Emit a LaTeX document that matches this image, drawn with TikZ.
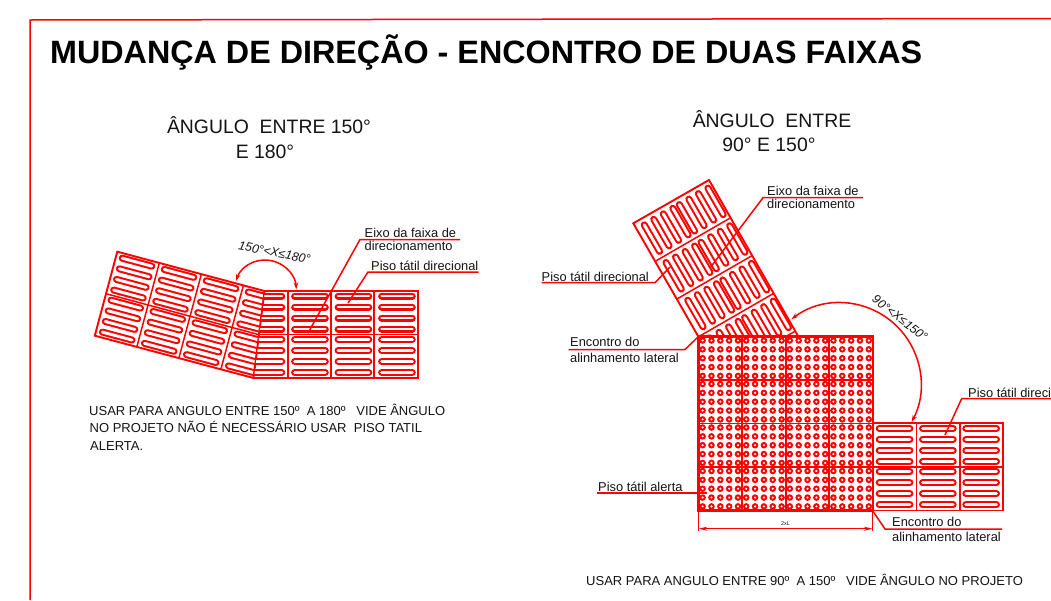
\documentclass[tikz,border=0pt]{standalone}
\usepackage{fontspec}
\setmainfont{Liberation Sans}
\usetikzlibrary{arrows.meta}
\definecolor{cad}{RGB}{255,0,0}
\definecolor{ink}{RGB}{20,20,20}
\newcommand{\fsz}[1]{\fontsize{#1pt}{#1pt}\selectfont}
% slots of one paving cell, local origin at cell corner
\newcommand{\tileslots}[2]{%
  \foreach \o in {5,16,27,38}{%
    \draw[slotout] (#1+6.4,#2+\o) -- (#1+37.1,#2+\o);
    \draw[slotin] (#1+6.4,#2+\o) -- (#1+37.1,#2+\o);
  }}
\newcommand{\alertdots}[2]{%
  \foreach \i in {0,...,4}{\foreach \j in {0,...,4}{%
    \fill[cad] (#1+4.2+8.85*\i,#2+4+8.85*\j) circle[radius=3.3pt];
    \fill[white] (#1+4.2+8.85*\i,#2+4+8.85*\j) circle[radius=1.2pt];
  }}}
\tikzset{
  slotout/.style={cad,line width=7pt,line cap=round},
  slotin/.style={white,line width=2.9pt,line cap=round},
  grid/.style={cad,line width=1.5pt},
  heavy/.style={cad,line width=1.9pt},
  leader/.style={cad,line width=1.5pt},
  arcline/.style={cad,line width=1.5pt,{Stealth[length=7pt,width=4.5pt]}-{Stealth[length=7pt,width=4.5pt]}},
  lab/.style={anchor=base west,inner sep=0pt,text=ink,font=\fsz{12.85}},
  head/.style={anchor=base,inner sep=0pt,text=ink,font=\fsz{19.4}},
  note/.style={anchor=base west,inner sep=0pt,text=ink,font=\fsz{13}},
  ang/.style={inner sep=0pt,text=ink,font=\fsz{12.3}\itshape},
}
\begin{document}
\begin{tikzpicture}[x=1pt,y=-1pt]
\useasboundingbox (0,0) rectangle (1051,600);
\clip (0,0) rectangle (1051,600);
\fill[white] (0,0) rectangle (1051,600);

% frame
\coordinate (fa) at (30,600); \coordinate (fb) at (30,20); \coordinate (fc) at (1051,18.5);
\draw[cad,line width=1.5pt] (fa) -- (fb) -- (fc);

% title
\node[anchor=base west,inner sep=0pt,text=black,font=\fsz{32.3}\bfseries] (title) at (50,63.5) {MUDANÇA DE DIREÇÃO - ENCONTRO DE DUAS FAIXAS};
\node[head] (h1a) at (269,133.5) {ÂNGULO\ \ ENTRE 150°};
\node[head] (h1b) at (265,158) {E 180°};
\node[head] (h2a) at (772,127) {ÂNGULO\ \ ENTRE};
\node[head] (h2b) at (769,151) {90° E 150°};

% ---------- left strip, rotated
\begin{scope}
  \clip (117.3,251.7) -- (264.5,291) -- (253.5,378) -- (94.8,335.7) -- cycle;
  \begin{scope}[shift={(117.3,251.7)},rotate=-15]
    \foreach \c in {0,1,2,3}{\foreach \r in {0,1}{\tileslots{43.5*\c}{43.5*\r}}}
    \foreach \c in {1,2,3,4}{\draw[grid] (43.5*\c,0) -- (43.5*\c,87);}
    \draw[grid] (0,43.5) -- (180,43.5);
  \end{scope}
\end{scope}
\draw[heavy] (117.3,251.7) -- (264.5,291) -- (253.5,378) -- (94.8,335.7) -- cycle;

% ---------- left right-hand block
\begin{scope}
  \clip (265,291) -- (418,291) -- (418,378) -- (254,378) -- cycle;
  \foreach \c in {0,1,2,3}{\foreach \r in {0,1}{\tileslots{244.7+43.5*\c}{291+43.5*\r}}}
\end{scope}
\foreach \xx in {288,331,374}{\draw[grid] (\xx,291) -- (\xx,378);}
\draw[grid] (259.5,334.3) -- (418,334.3);
\draw[heavy] (265,291) -- (418,291) -- (418,378) -- (254,378);

% left dimension arc and leaders
\coordinate (arcL) at (236,281);
\draw[arcline] (arcL) arc[start angle=161,end angle=3,radius=31pt];
\node[ang,rotate=-11.5] (angL) at (274.5,252.5) {150°<X≤180°};
\coordinate (e1a) at (308,333); \coordinate (e1b) at (360,239.5); \coordinate (e1c) at (460,239.5);
\draw[leader] (e1a) -- (e1b) -- (e1c);
\node[lab] (e1t1) at (364.5,237.5) {Eixo da faixa de};
\node[lab] (e1t2) at (364.5,250) {direcionamento};
\coordinate (p1a) at (348,303); \coordinate (p1b) at (368,272); \coordinate (p1c) at (478.5,272);
\draw[leader] (p1a) -- (p1b) -- (p1c);
\node[lab] (p1t) at (371,270.5) {Piso tátil direcional};

\node[note] (n1) at (89,415) {USAR PARA ANGULO ENTRE 150º\ \ A 180º\ \ \ VIDE ÂNGULO};
\node[note] (n2) at (89.5,432.5) {NO PROJETO NÃO É NECESSÁRIO USAR\ \ PISO TATIL};
\node[note] (n3) at (90,450) {ALERTA.};

% ---------- right rotated strip
\begin{scope}
  \clip (709,180) -- (633.3,223.3) -- (698.3,336.5) -- (798.3,336.5) -- cycle;
  \begin{scope}[shift={(709,180)},rotate=-60]
    \foreach \c in {0,1,2,3,4}{
      \tileslots{43.5*\c}{0}
      \tileslots{43.5*\c}{40.5}
    }
    \foreach \c in {1,2,3,4}{\draw[grid] (43.5*\c,0) -- (43.5*\c,87);}
  \end{scope}
\end{scope}
\draw[heavy] (698.3,336.5) -- (633.3,223.3) -- (709,180) -- (798.3,336.5);

% ---------- alert block
\foreach \c in {0,1,2,3}{\foreach \r in {0,1,2,3}{\alertdots{698.4+43.6*\c}{336.5+43.5*\r}}}
\foreach \xx in {742,785.6,829.2}{\draw[cad,line width=1.8pt] (\xx,336.5) -- (\xx,510.5);}
\foreach \yy in {379.8,423.3,466.8}{\draw[grid] (698.4,\yy) -- (872.8,\yy);}
\draw[cad,line width=2.2pt] (698.4,336.5) rectangle (872.8,510.5);

% ---------- lower right block
\foreach \c in {0,1,2}{\foreach \r in {0,1}{\tileslots{872.8+43.3*\c}{423.3+43.5*\r}}}
\foreach \xx in {916.5,960}{\draw[grid] (\xx,423.3) -- (\xx,510.5);}
\draw[grid] (872.8,466.8) -- (1002.7,466.8);
\draw[heavy] (872.8,423.3) -- (1002.7,423.3) -- (1002.7,510.5) -- (872.8,510.5);

% right arc
\coordinate (arcR) at (791.3,319.3);
\draw[arcline] (arcR) arc[start angle=127,end angle=-28,radius=81pt];
\node[ang,rotate=-38] (angR) at (900,318) {90°<X≤150°};

% dimension
\coordinate (da) at (698.4,511); \coordinate (db) at (698.4,531);
\coordinate (dc) at (872.8,511); \coordinate (dd) at (872.8,531);
\coordinate (de) at (698.4,528.7); \coordinate (df) at (872.8,528.7);
\draw[cad,line width=1pt] (da) -- (db);
\draw[cad,line width=1pt] (dc) -- (dd);
\draw[cad,line width=1.4pt,{Stealth[length=9pt,width=4pt]}-{Stealth[length=9pt,width=4pt]}] (de) -- (df);
\node[inner sep=0pt,text=ink,font=\fsz{5.5}] (dl) at (785.5,523.7) {2xL};

% right leaders and labels
\coordinate (e2a) at (710,268); \coordinate (e2b) at (763,197.7); \coordinate (e2c) at (863,197.7);
\draw[leader] (e2a) -- (e2b) -- (e2c);
\node[lab] (e2t1) at (767,195.5) {Eixo da faixa de};
\node[lab] (e2t2) at (767,208.5) {direcionamento};
\coordinate (p2a) at (670,267); \coordinate (p2b) at (655,282.7); \coordinate (p2c) at (541.5,282.7);
\draw[leader] (p2a) -- (p2b) -- (p2c);
\node[lab] (p2t) at (541.5,281) {Piso tátil direcional};
\coordinate (c1a) at (698.3,336.7); \coordinate (c1b) at (685,349.5); \coordinate (c1c) at (568.5,349.5);
\draw[leader] (c1a) -- (c1b) -- (c1c);
\node[lab] (c1t1) at (570,346) {Encontro do};
\node[lab] (c1t2) at (570,362) {alinhamento lateral};
\coordinate (p3a) at (945,435); \coordinate (p3b) at (961.7,398.5); \coordinate (p3c) at (1051,398.5);
\draw[leader] (p3a) -- (p3b) -- (p3c);
\node[lab] (p3t) at (968,397) {Piso tátil direcional};
\coordinate (a1a) at (706.7,492.8); \coordinate (a1b) at (597.3,492.8);
\draw[leader] (a1a) -- (a1b);
\node[lab] (a1t) at (598,491.5) {Piso tátil alerta};
\coordinate (c2a) at (872.8,511); \coordinate (c2b) at (885,529); \coordinate (c2c) at (1002,529);
\draw[leader] (c2a) -- (c2b) -- (c2c);
\node[lab] (c2t1) at (892,526) {Encontro do};
\node[lab] (c2t2) at (892,541.5) {alinhamento lateral};

\node[note] (n4) at (586,585) {USAR PARA ANGULO ENTRE 90º\ \ A 150º\ \ \ VIDE ÂNGULO NO PROJETO};
\end{tikzpicture}
\end{document}
